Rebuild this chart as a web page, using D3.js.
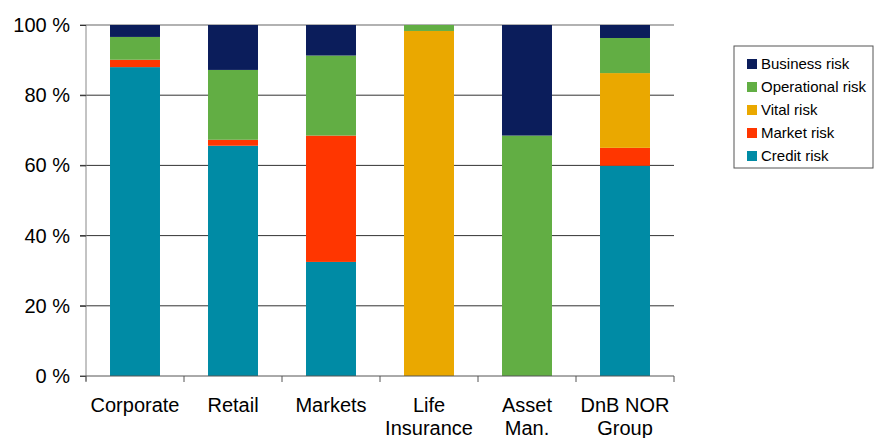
<!DOCTYPE html>
<html>
<head>
<meta charset="utf-8">
<script src="https://cdn.jsdelivr.net/npm/d3@7"></script>
<style>
  body { margin: 0; background: #fff; }
  text { font-family: "Liberation Sans", Arial, sans-serif; }
</style>
</head>
<body>
<svg id="chart" width="874" height="438"></svg>
<script>
const categories = ["Corporate", "Retail", "Markets", "Life\nInsurance", "Asset\nMan.", "DnB NOR\nGroup"]
const seriesNames = ["Credit risk", "Market risk", "Vital risk", "Operational risk", "Business risk"]
const creditRisk = [88.0, 65.6, 32.5, 0, 0, 59.9]
const marketRisk = [2.1, 1.7, 36.0, 0, 0, 5.1]
const vitalRisk = [0, 0, 0, 98.3, 0, 21.3]
const operationalRisk = [6.5, 19.9, 22.8, 1.7, 68.5, 10.0]
const businessRisk = [3.4, 12.8, 8.7, 0, 31.5, 3.7]
const yTicks = [0, 20, 40, 60, 80, 100]

const colors = ["#008ba5", "#ff3600", "#eaa800", "#62ae44", "#0b1d5b"]
const allSeries = [creditRisk, marketRisk, vitalRisk, operationalRisk, businessRisk]

const margin = { top: 25, right: 200, bottom: 62, left: 86 },
    width = 874,
    height = 438

const table = categories.map((c, i) => {
    const row = { name: c }
    seriesNames.forEach((s, j) => row[s] = allSeries[j][i])
    return row
})

const stack = d3.stack().keys(seriesNames)(table)

const x = d3.scaleBand()
    .domain(categories)
    .range([margin.left, 674])
    .paddingInner(0.49)
    .paddingOuter(0.245)

const y = d3.scaleLinear()
    .domain([0, 100])
    .range([height - margin.bottom, margin.top])

const svg = d3.select("#chart")

// grid
svg.append("g")
    .selectAll("line")
    .data(yTicks.filter(d => d > 0))
    .join("line")
    .attr("x1", 80).attr("x2", 674)
    .attr("y1", d => y(d)).attr("y2", d => y(d))
    .attr("stroke", d => d === 100 ? "#999" : "#333")
    .attr("stroke-width", d => d === 100 ? 1.5 : 1)

// bars
svg.append("g")
    .selectAll("g")
    .data(stack)
    .join("g")
    .attr("fill", (d, i) => colors[i])
    .selectAll("rect")
    .data(d => d)
    .join("rect")
    .attr("x", d => x(d.data.name))
    .attr("y", d => y(d[1]))
    .attr("height", d => y(d[0]) - y(d[1]))
    .attr("width", x.bandwidth())

// y axis
const yAxis = svg.append("g")
    .attr("transform", `translate(${margin.left},0)`)
    .call(d3.axisLeft(y).tickValues(yTicks).tickFormat(d => d + " %").tickSize(6).tickPadding(10))
yAxis.select(".domain").attr("stroke", "#888").attr("d", `M0,${y(100)}V${y(0) + 5}`)
yAxis.selectAll(".tick line").attr("stroke", "#333")
yAxis.selectAll(".tick text").attr("font-size", 20).attr("fill", "#000")

// x axis
const xAxis = svg.append("g")
    .attr("transform", `translate(0,${y(0)})`)
const tickPos = d3.range(categories.length + 1).map(i => margin.left + i * x.step())
xAxis.append("line")
    .attr("x1", margin.left - 6).attr("x2", 674)
    .attr("stroke", "#555")
xAxis.selectAll(".tk")
    .data(tickPos)
    .join("line")
    .attr("class", "tk")
    .attr("x1", d => d).attr("x2", d => d)
    .attr("y1", 0).attr("y2", 6)
    .attr("stroke", "#555")
xAxis.selectAll("text")
    .data(categories)
    .join("text")
    .attr("text-anchor", "middle")
    .attr("font-size", 20)
    .attr("transform", d => `translate(${x(d) + x.bandwidth() / 2},36)`)
    .selectAll("tspan")
    .data(d => d.split("\n"))
    .join("tspan")
    .attr("x", 0)
    .attr("dy", (d, i) => i === 0 ? 0 : 23)
    .text(d => d)

// legend
const legend = svg.append("g").attr("transform", "translate(734,46)")
legend.append("rect")
    .attr("width", 139).attr("height", 122)
    .attr("fill", "#fff").attr("stroke", "#555")
const items = legend.selectAll("g")
    .data(seriesNames.slice().reverse())
    .join("g")
    .attr("transform", (d, i) => `translate(13,${17 + i * 23})`)
items.append("rect")
    .attr("y", -4).attr("width", 10).attr("height", 10)
    .attr("fill", d => colors[seriesNames.indexOf(d)])
items.append("text")
    .attr("x", 14).attr("y", 6)
    .attr("font-size", 15)
    .text(d => d)
</script>
</body>
</html>
